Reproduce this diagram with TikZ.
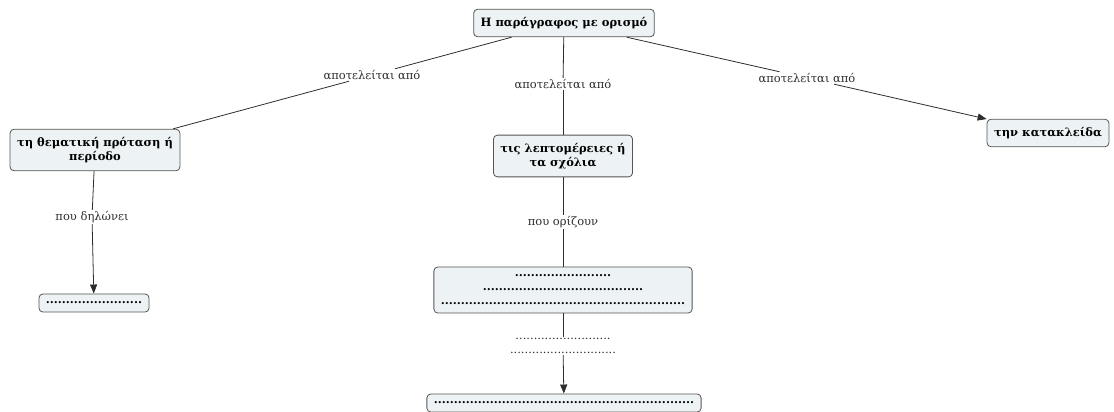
\documentclass[tikz,border=0pt]{standalone}
\usepackage{fontspec}
\setmainfont{DejaVu Serif}
\usetikzlibrary{arrows.meta}
\definecolor{conceptfill}{RGB}{237,243,245}
\definecolor{conceptdraw}{RGB}{85,85,85}
\definecolor{linkgray}{RGB}{45,45,45}
\tikzstyle{concept}=[draw=conceptdraw,fill=conceptfill,rounded corners=4pt,align=center,font=\fontsize{11.5}{14}\selectfont\bfseries,inner xsep=7pt,inner ysep=8pt]
\tikzstyle{linking}=[fill=white,inner sep=1pt,align=center,text=linkgray,font=\fontsize{11.5}{14}\selectfont]
\tikzstyle{arrowlink}=[-{Triangle[length=9pt,width=7pt]}]
\newcommand{\dotrow}[1]{\foreach \k in {1,...,#1}{.}}

\begin{document}
\begin{tikzpicture}[x=1pt,y=-1pt,line width=0.8pt,draw=linkgray]
\useasboundingbox (0,0) rectangle (1114,412);
  % concepts
  \foreach \place/\name/\txt in {{(564,23)/para/Η παράγραφος με ορισμό},
                                 {(95,150)/topic/{τη θεματική πρόταση ή\\περίοδο}},
                                 {(563,156)/detail/{τις λεπτομέρειες ή\\τα σχόλια}},
                                 {(1048,133)/closing/την κατακλείδα},
                                 {(94,303)/topicdots/\dotrow{24}},
                                 {(563,290)/lines/{\dotrow{24}\\\dotrow{40}\\\dotrow{61}}},
                                 {(564,403)/result/\dotrow{65}}}
    \node[concept] (\name) at \place {\txt};
  % linking phrases
  \foreach \place/\name/\txt in {{(372,75)/l1/αποτελείται από},
                                 {(563,84)/l2/αποτελείται από},
                                 {(807,78)/l3/αποτελείται από},
                                 {(92,217)/l4/που δηλώνει},
                                 {(563,222)/l5/που ορίζουν},
                                 {(563,346)/l6/{\dotrow{26}\\\dotrow{29}}}}
    \node[linking] (\name) at \place {\txt};
  \foreach \source/\dest in {para/l1,l1/topic,para/l2,l2/detail,para/l3,
                             topic/l4,detail/l5,l5/lines,lines/l6}
      \path (\source) edge (\dest);
  \foreach \source/\dest in {l3/closing,l4/topicdots,l6/result}
      \path (\source) edge[arrowlink] (\dest);
\end{tikzpicture}
\end{document}
